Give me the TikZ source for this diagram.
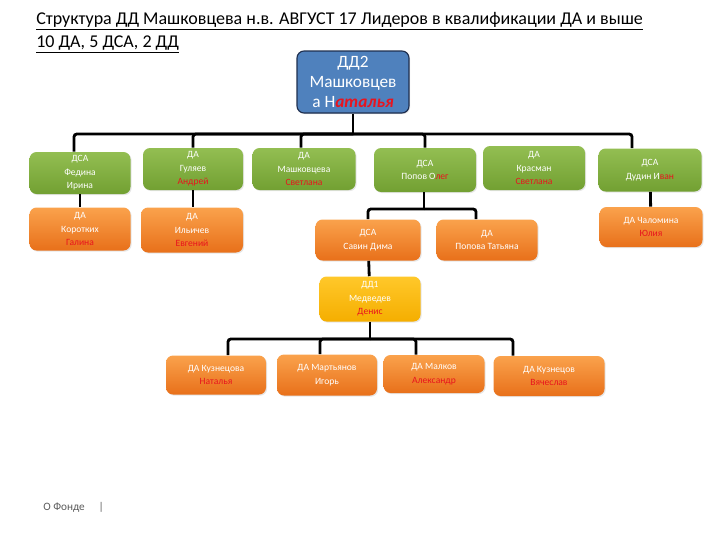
\documentclass[tikz,border=0pt]{standalone}
\usepackage{fontspec}
\setmainfont{Carlito}
\usetikzlibrary{shadows}
\definecolor{grtop}{HTML}{93BE52}
\definecolor{grbot}{HTML}{72A032}
\definecolor{ortop}{HTML}{FAA24C}
\definecolor{orbot}{HTML}{E8701A}
\definecolor{yetop}{HTML}{FFC82A}
\definecolor{yebot}{HTML}{F5AE00}
\definecolor{bluebox}{HTML}{4F81BD}
\definecolor{blueline}{HTML}{1F2F4F}
\definecolor{namered}{HTML}{E8141E}
\begin{document}
\begin{tikzpicture}[x=0.025cm,y=-0.025cm,
  box/.style={rounded corners=5pt, inner sep=0pt, align=center, text=white, font=\fontsize{6.8}{9.6}\selectfont, drop shadow={opacity=0.2, shadow xshift=0.8pt, shadow yshift=-0.8pt}},
  green/.style={box, top color=grtop, bottom color=grbot},
  orange/.style={box, top color=ortop, bottom color=orbot},
  yellow/.style={box, top color=yetop, bottom color=yebot},
  link/.style={line width=2pt, rounded corners=2pt}]
\useasboundingbox (0,0) rectangle (720,540);
\node[anchor=north west, align=left, inner sep=0, font=\fontsize{12.8}{16.5}\selectfont] (title) at (36,12)
  {\underline{Структура ДД Машковцева н.в. АВГУСТ 17 Лидеров в квалификации ДА и выше}\\\underline{10 ДА, 5 ДСА, 2 ДД}};
\node[box, fill=bluebox, draw=blueline, line width=0.8pt, minimum width=112*0.025cm, minimum height=62*0.025cm, font=\fontsize{12.3}{14.2}\selectfont] (dd2) at (353,82)
  {ДД2\\Машковцев\\а Н{\color{namered}\bfseries\itshape аталья}};
\node[green, minimum width=101*0.025cm, minimum height=42*0.025cm] (fed) at (80,173) {ДСА\\Федина\\Ирина};
\node[green, minimum width=100*0.025cm, minimum height=42*0.025cm] (gul) at (193,169) {ДА\\Гуляев\\\textcolor{namered}{Андрей}};
\node[green, minimum width=103*0.025cm, minimum height=42*0.025cm] (mash) at (304,169) {ДА\\Машковцева\\\textcolor{namered}{Светлана}};
\node[green, minimum width=102*0.025cm, minimum height=44*0.025cm] (pop) at (425,170) {ДСА\\Попов О\textcolor{namered}{лег}};
\node[green, minimum width=102*0.025cm, minimum height=44*0.025cm] (kras) at (534,168) {ДА\\Красман\\\textcolor{namered}{Светлана}};
\node[green, minimum width=103*0.025cm, minimum height=43*0.025cm] (dud) at (650,170) {ДСА\\Дудин И\textcolor{namered}{ван}};
\node[orange, minimum width=101*0.025cm, minimum height=43*0.025cm] (kor) at (80,229) {ДА\\Коротких\\\textcolor{namered}{Галина}};
\node[orange, minimum width=102*0.025cm, minimum height=45*0.025cm] (ily) at (192,230) {ДА\\Ильичев\\\textcolor{namered}{Евгений}};
\node[orange, minimum width=105*0.025cm, minimum height=41*0.025cm] (sav) at (368,240) {ДСА\\Савин Дима};
\node[orange, minimum width=101*0.025cm, minimum height=41*0.025cm] (popt) at (487,240) {ДА\\Попова Татьяна};
\node[orange, minimum width=103*0.025cm, minimum height=40*0.025cm] (chal) at (651,227) {ДА Чаломина\\\textcolor{namered}{Юлия}};
\node[yellow, minimum width=101*0.025cm, minimum height=45*0.025cm] (dd1) at (370,299) {ДД1\\Медведев\\\textcolor{namered}{Денис}};
\node[orange, minimum width=100*0.025cm, minimum height=39*0.025cm] (kuzn) at (216,375) {ДА Кузнецова\\\textcolor{namered}{Наталья}};
\node[orange, minimum width=100*0.025cm, minimum height=41*0.025cm] (mart) at (327,375) {ДА Мартьянов\\Игорь};
\node[orange, minimum width=101*0.025cm, minimum height=38*0.025cm] (malk) at (434,374) {ДА Малков\\\textcolor{namered}{Александр}};
\node[orange, minimum width=111*0.025cm, minimum height=40*0.025cm] (kuzv) at (549,376) {ДА  Кузнецов\\\textcolor{namered}{Вячеслав}};
\node[anchor=west, inner sep=0, text=black!65, font=\fontsize{8}{10}\selectfont] (fond) at (43,507) {О Фонде \quad|};
\coordinate (bus1) at (353,134);
\coordinate (bus2) at (424,209);
\coordinate (bus3) at (370,339);
\draw[link] (dd2) -- (bus1);
\draw[link] (bus1) -| ([xshift=-0.15cm]fed.north);
\draw[link] (bus1) -| (gul.north);
\draw[link] (bus1) -| ([xshift=-0.075cm]mash.north);
\draw[link] (bus1) -| (pop.north);
\draw[link] (bus1) -| ([xshift=-0.45cm]dud.north);
\draw[link] (fed) -- (kor);
\draw[link] (gul) -- (gul |- ily.north);
\draw[link] (dud) -- (chal);
\draw[link] (pop.south -| bus2) -- (bus2);
\draw[link] (bus2) -| (sav.north);
\draw[link] (bus2) -| ([xshift=-0.275cm]popt.north);
\draw[link] (sav) -- (dd1);
\draw[link] (dd1) -- (bus3);
\draw[link] (bus3) -| ([xshift=0.3cm]kuzn.north);
\draw[link] (bus3) -| ([xshift=-0.175cm]mart.north);
\draw[link] (bus3) -| ([xshift=-0.45cm]malk.north);
\draw[link] (bus3) -| ([xshift=-0.9cm]kuzv.north);
\end{tikzpicture}
\end{document}
